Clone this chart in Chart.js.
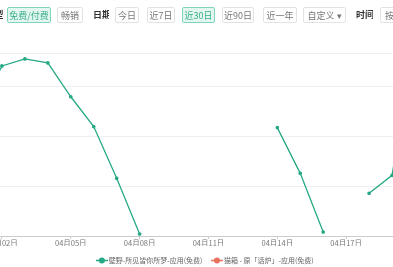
<!DOCTYPE html>
<html>
<head>
<meta charset="utf-8">
<script src="https://cdn.jsdelivr.net/npm/chart.js@4.4.0/dist/chart.umd.min.js"></script>
<style>
    html, body { margin: 0; padding: 0; background: #fff; overflow: hidden; }
    body { width: 393px; height: 267px; position: relative; font-family: "Noto Sans CJK SC", "Noto Sans", sans-serif; }
    #wrap { position: absolute; left: -40px; top: 0; width: 480px; height: 267px; }
    .bar { position: absolute; top: 0; left: 0; width: 393px; height: 30px; z-index: 2; }
    .btn, .lbl { position: absolute; top: 7px; height: 16px; line-height: 16px; font-size: 9px; text-align: center; box-sizing: border-box; white-space: nowrap; overflow: hidden; }
    .btn { border: 1px solid #e2e2e2; border-radius: 2px; color: #777; background: #fff; }
    .btn.on { border-color: #7fd4bc; background: #e3f6f0; color: #3aae8c; }
    .lbl { font-weight: bold; color: #333; }
</style>
</head>
<body>
<div class="bar">
    <div class="lbl" style="left:-6px;width:10px;">型</div>
    <div class="btn on" style="left:7px;width:44px;">免费/付费</div>
    <div class="btn" style="left:57px;width:26px;">畅销</div>
    <div class="lbl" style="left:93px;width:16px;">日期</div>
    <div class="btn" style="left:115px;width:24px;">今日</div>
    <div class="btn" style="left:147px;width:28px;">近7日</div>
    <div class="btn on" style="left:182px;width:33px;">近30日</div>
    <div class="btn" style="left:222px;width:32px;">近90日</div>
    <div class="btn" style="left:263px;width:34px;">近一年</div>
    <div class="btn" style="left:303px;width:43px;">自定义 ▾</div>
    <div class="lbl" style="left:356px;width:17px;">时间</div>
    <div class="btn" style="left:380px;width:30px;text-align:left;padding-left:4px;">按日</div>
</div>
<div id="wrap"><canvas id="rankChart"></canvas></div>
<script>
var dates = ["04月01日", "04月02日", "04月03日", "04月04日", "04月05日", "04月06日", "04月07日",
    "04月08日", "04月09日", "04月10日", "04月11日", "04月12日", "04月13日", "04月14日",
    "04月15日", "04月16日", "04月17日", "04月18日", "04月19日", "04月20日"];
var greenName = "壁野-所见皆你所梦-应用(免费)";
var redName = "猫箱 - 原「话炉」-应用(免费)";
var greenRank = [75, 29, 22, 26, 60, 90, 142, 198, null, null, null, null, null, 91, 137, 196, null, 157, 139, 1];
var redRank = [null, null, null, null, null, null, null, null, null, null,
    null, null, null, null, null, null, null, null, null, null];
var rankTicks = [16, 50, 100, 150, 200];

var green = "#26a985";
var red = "#e8705c";

// legend icon: short line with a dot in the middle
function legendIcon(color) {
    var c = document.createElement("canvas");
    c.width = 12;
    c.height = 7;
    var g = c.getContext("2d");
    g.strokeStyle = color;
    g.lineWidth = 1.5;
    g.beginPath();
    g.moveTo(0, 3.5);
    g.lineTo(12, 3.5);
    g.stroke();
    g.fillStyle = color;
    g.beginPath();
    g.arc(6, 3.5, 3, 0, Math.PI * 2);
    g.fill();
    return c;
}

// nudge the legend a little to the right, like the original
var legendShift = {
    id: "legendShift",
    afterLayout: function (chart) {
        chart.legend.left += 9;
        chart.legend.right += 9;
    }
};

var ctx = document.getElementById("rankChart").getContext("2d");
var rankChart = new Chart(ctx, {
    type: "line",
    data: {
        labels: dates,
        datasets: [{
            label: greenName,
            data: greenRank,
            borderColor: green,
            backgroundColor: green,
            borderWidth: 1.3,
            pointRadius: 1.2,
            pointHoverRadius: 2,
            tension: 0,
            spanGaps: false
        }, {
            label: redName,
            data: redRank,
            borderColor: red,
            backgroundColor: red,
            borderWidth: 1.3,
            pointRadius: 1.2,
            tension: 0
        }]
    },
    plugins: [legendShift],
    options: {
        responsive: true,
        maintainAspectRatio: false,
        animation: false,
        layout: { padding: { left: 19, right: 25, top: 53, bottom: 0 } },
        plugins: {
            tooltip: { enabled: false },
            legend: {
                position: "bottom",
                maxHeight: 21,
                labels: {
                    usePointStyle: true,
                    padding: 11,
                    color: "#666",
                    font: { size: 7, family: "'Noto Sans CJK SC', sans-serif" },
                    generateLabels: function (chart) {
                        return chart.data.datasets.map(function (ds, i) {
                            return {
                                text: ds.label,
                                pointStyle: legendIcon(ds.borderColor),
                                fillStyle: ds.borderColor,
                                strokeStyle: ds.borderColor,
                                fontColor: "#666",
                                lineWidth: 0,
                                datasetIndex: i
                            };
                        });
                    }
                }
            }
        },
        scales: {
            x: {
                offset: false,
                afterFit: function (scale) { scale.height = 10; },
                border: { color: "#cccccc" },
                grid: {
                    drawOnChartArea: false,
                    tickLength: 3,
                    tickColor: function (c) {
                        return (c.index - 1) % 3 === 0 ? "#cccccc" : "rgba(0,0,0,0)";
                    }
                },
                ticks: {
                    autoSkip: false,
                    maxRotation: 0,
                    padding: 0,
                    color: "#777",
                    font: { size: 7.5, family: "'Noto Sans CJK SC', sans-serif" },
                    callback: function (v, i) {
                        return (i - 1) % 3 === 0 ? dates[i] : "";
                    }
                }
            },
            y: {
                reverse: true,
                min: 16,
                max: 200,
                afterBuildTicks: function (scale) {
                    scale.ticks = rankTicks.map(function (v) { return { value: v }; });
                },
                afterFit: function (scale) { scale.width = 0; },
                border: { display: false },
                grid: { color: "#efefef", drawTicks: false },
                ticks: { display: false }
            }
        }
    }
});
</script>
</body>
</html>
